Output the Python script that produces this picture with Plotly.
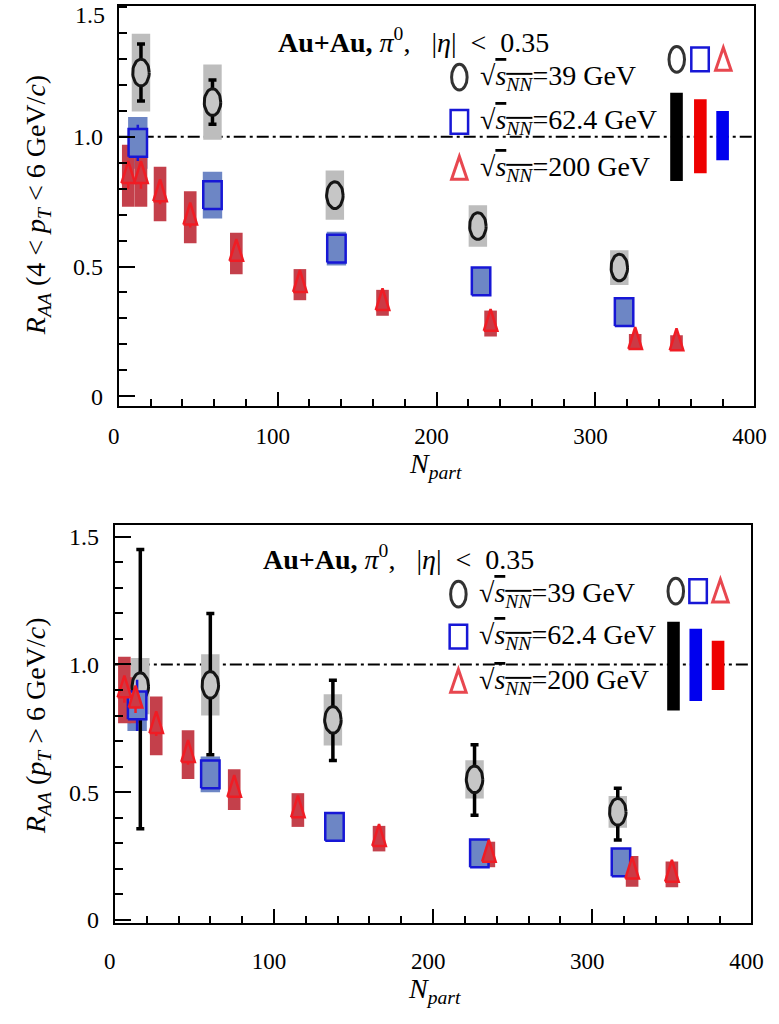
import numpy as np
import plotly.graph_objects as go

W, H = 779, 1024

# ---------------- data : top panel (4 < pT < 6 GeV/c) ----------------
top_x_39 = [14, 59, 136, 226, 315]
top_y_39 = [1.248, 1.134, 0.775, 0.656, 0.496]
top_stat_39 = [0.11, 0.085, 0.03, 0.02, 0.02]
top_sys_39 = [0.15, 0.145, 0.095, 0.08, 0.067]

top_x_62 = [12, 59, 137, 228, 318]
top_y_62 = [0.977, 0.775, 0.569, 0.443, 0.324]
top_stat_62 = [0.07, 0.03, 0.02, 0.02, 0.02]
top_sys_62 = [0.10, 0.09, 0.065, 0.055, 0.055]

top_x_200 = [6, 14, 26, 45, 74, 114, 166, 234, 325, 351]
top_y_200 = [0.85, 0.85, 0.78, 0.69, 0.55, 0.43, 0.36, 0.28, 0.21, 0.205]
top_stat_200 = [0.05, 0.05, 0.04, 0.04, 0.03, 0.03, 0.02, 0.02, 0.02, 0.02]
top_sys_200 = [0.12, 0.12, 0.105, 0.10, 0.08, 0.06, 0.05, 0.05, 0.03, 0.03]

top_glob_x = [351, 366, 380]
top_glob_lo = [0.83, 0.86, 0.91]
top_glob_hi = [1.17, 1.145, 1.10]
top_glob_col = ["#000000", "#ee0000", "#0000ee"]

# ---------------- data : bottom panel (pT > 6 GeV/c) ----------------
bot_x_39 = [16, 60, 137, 226, 316]
bot_y_39 = [0.915, 0.92, 0.783, 0.55, 0.423]
bot_stat_up_39 = [0.535, 0.28, 0.155, 0.136, 0.092]
bot_stat_dn_39 = [0.558, 0.273, 0.159, 0.14, 0.11]
bot_sys_39 = [0.11, 0.12, 0.10, 0.075, 0.062]

bot_x_62 = [14, 60, 138, 229, 318]
bot_y_62 = [0.84, 0.57, 0.364, 0.26, 0.225]
bot_stat_62 = [0.10, 0.03, 0.02, 0.02, 0.02]
bot_sys_62 = [0.10, 0.07, 0.055, 0.055, 0.05]

bot_x_200 = [6, 13, 26, 46, 75, 115, 166, 235, 325, 350]
bot_y_200 = [0.90, 0.86, 0.76, 0.647, 0.51, 0.43, 0.318, 0.256, 0.19, 0.178]
bot_stat_200 = [0.05, 0.05, 0.04, 0.04, 0.03, 0.03, 0.02, 0.02, 0.02, 0.02]
bot_sys_200 = [0.13, 0.09, 0.115, 0.095, 0.08, 0.066, 0.05, 0.05, 0.06, 0.05]

bot_glob_x = [351, 365, 379]
bot_glob_lo = [0.82, 0.857, 0.90]
bot_glob_hi = [1.167, 1.14, 1.093]
bot_glob_col = ["#000000", "#0000ee", "#ee0000"]

x_ticks = [0, 100, 200, 300, 400]
x_ticktext = ["0", "100", "200", "300", "400"]
y_ticks = [0, 0.5, 1.0, 1.5]
y_ticktext = ["0", "0.5", "1.0", "1.5"]

# ---------------- layout geometry (pixels) ----------------
TOP = dict(l=111, r=766, t=6, b=410, yr=[-0.038, 1.505], xstand=8)
BOT = dict(l=107, r=763, t=530, b=932, yr=[-0.012, 1.547], xstand=17)

FONT = "Liberation Serif"
GRAY_BOX = "#bdbdbd"
CIRC_FILL = "#c6c6c6"
BLUE_BOX = "#6d86c5"
BLUE_LINE = "#1717d6"
RED_BOX = "#c4404b"
RED_LINE = "#f01c24"
NB = "\u00a0"


def units(panel):
    ux = 400.0 / (panel["r"] - panel["l"])
    uy = (panel["yr"][1] - panel["yr"][0]) / (panel["b"] - panel["t"])
    return ux, uy


def ellipses(xs, ys, panel, wpx, hpx):
    ux, uy = units(panel)
    a, b = wpx / 2 * ux, hpx / 2 * uy
    t = np.linspace(0, 2 * np.pi, 41)
    X, Y = [], []
    for x, y in zip(xs, ys):
        X += list(x + a * np.cos(t)) + [None]
        Y += list(y + b * np.sin(t)) + [None]
    return X, Y


def rects(xs, ys, panel, wpx, hpx):
    ux, uy = units(panel)
    a, b = wpx / 2 * ux, hpx / 2 * uy
    X, Y = [], []
    for x, y in zip(xs, ys):
        X += [x - a, x + a, x + a, x - a, x - a, None]
        Y += [y - b, y - b, y + b, y + b, y - b, None]
    return X, Y


def triangles(xs, ys, panel, wpx, hpx):
    ux, uy = units(panel)
    a, h = wpx / 2 * ux, hpx * uy
    X, Y = [], []
    for x, y in zip(xs, ys):
        X += [x - a, x + a, x, x - a, None]
        Y += [y - h / 3, y - h / 3, y + 2 * h / 3, y - h / 3, None]
    return X, Y


fig = go.Figure()


def add_panel(ax, panel, x39, y39, up39, dn39, s39, x62, y62, st62, s62,
              x200, y200, st200, s200, gx, glo, ghi, gcol):
    xa, ya = "x" + ax, "y" + ax
    ux, uy = units(panel)
    common = dict(xaxis=xa, yaxis=ya, showlegend=False, hoverinfo="skip")
    # systematic boxes
    for xs, ys, ss, w, c in [(x39, y39, s39, 19, GRAY_BOX),
                             (x62, y62, s62, 20, BLUE_BOX),
                             (x200, y200, s200, 13, RED_BOX)]:
        fig.add_trace(go.Bar(x=xs, y=[2 * s for s in ss],
                             base=[y - s for y, s in zip(ys, ss)],
                             width=w * ux, marker=dict(color=c, line=dict(width=0)),
                             **common))
    # global normalisation uncertainties
    fig.add_trace(go.Bar(x=gx, y=[h - l for h, l in zip(ghi, glo)], base=glo,
                         width=13 * ux, marker=dict(color=gcol, line=dict(width=0)),
                         **common))
    # 39 GeV stat errors + ellipses
    fig.add_trace(go.Scatter(x=x39, y=y39, mode="markers",
                             marker=dict(size=1, color="rgba(0,0,0,0)"),
                             error_y=dict(type="data", symmetric=False, array=up39,
                                          arrayminus=dn39, color="#000000",
                                          thickness=3.5, width=4), **common))
    X, Y = ellipses(x39, y39, panel, 17, 27)
    fig.add_trace(go.Scatter(x=X, y=Y, mode="lines", fill="toself",
                             fillcolor=CIRC_FILL, line=dict(color="#151515", width=3),
                             **common))
    # 62.4 GeV
    fig.add_trace(go.Scatter(x=x62, y=y62, mode="markers",
                             marker=dict(size=1, color="rgba(0,0,0,0)"),
                             error_y=dict(type="data", array=st62, color=BLUE_LINE,
                                          thickness=2.5, width=0), **common))
    X, Y = rects(x62, y62, panel, 19, 28)
    fig.add_trace(go.Scatter(x=X, y=Y, mode="lines", fill="toself", fillcolor=BLUE_BOX,
                             line=dict(color=BLUE_LINE, width=2.5), **common))
    # 200 GeV
    fig.add_trace(go.Scatter(x=x200, y=y200, mode="markers",
                             marker=dict(size=1, color="rgba(0,0,0,0)"),
                             error_y=dict(type="data", array=st200, color=RED_LINE,
                                          thickness=2.5, width=0), **common))
    X, Y = triangles(x200, y200, panel, 14, 22)
    fig.add_trace(go.Scatter(x=X, y=Y, mode="lines", fill="toself",
                             fillcolor="#cc3a45", line=dict(color=RED_LINE, width=2.5),
                             **common))


add_panel("", TOP, top_x_39, top_y_39, top_stat_39, top_stat_39, top_sys_39,
          top_x_62, top_y_62, top_stat_62, top_sys_62,
          top_x_200, top_y_200, top_stat_200, top_sys_200,
          top_glob_x, top_glob_lo, top_glob_hi, top_glob_col)
add_panel("2", BOT, bot_x_39, bot_y_39, bot_stat_up_39, bot_stat_dn_39, bot_sys_39,
          bot_x_62, bot_y_62, bot_stat_62, bot_sys_62,
          bot_x_200, bot_y_200, bot_stat_200, bot_sys_200,
          bot_glob_x, bot_glob_lo, bot_glob_hi, bot_glob_col)


def px(x):
    return x / W


def py(y):
    return 1 - y / H


def xaxis(panel, anchor):
    return dict(domain=[px(panel["l"]), px(panel["r"])], range=[0, 400],
                anchor=anchor, showline=True, linecolor="black", linewidth=2,
                mirror=True, showgrid=False, zeroline=False,
                ticks="inside", ticklen=14, tickwidth=2, tickcolor="black",
                tickvals=x_ticks, ticktext=x_ticktext,
                minor=dict(ticks="inside", ticklen=7, tickwidth=1.5,
                           tickcolor="black", tickvals=list(range(0, 401, 20))),
                tickfont=dict(family=FONT, size=23, color="black"),
                ticklabelstandoff=panel["xstand"], ticklabelshift=-5)


def yaxis(panel, anchor, ticktext):
    return dict(domain=[py(panel["b"]), py(panel["t"])], range=panel["yr"],
                anchor=anchor, showline=True, linecolor="black", linewidth=2,
                mirror=True, showgrid=False, zeroline=False,
                ticks="inside", ticklen=16, tickwidth=2, tickcolor="black",
                tickvals=y_ticks, ticktext=ticktext,
                minor=dict(ticks="inside", ticklen=8, tickwidth=1.5,
                           tickcolor="black",
                           tickvals=[round(v, 2) for v in np.arange(0, 1.55, 0.1)]),
                tickfont=dict(family=FONT, size=24, color="black"),
                ticklabelstandoff=9)


shapes = []
annotations = []

# top-most label of the upper panel sits just below the frame edge (as in the original)
annotations.append(dict(x=px(TOP["l"] - 12), y=py(15), xref="paper", yref="paper",
                        showarrow=False, xanchor="right", yanchor="middle",
                        text=y_ticktext[-1],
                        font=dict(family=FONT, size=24, color="black")))

# reference line RAA = 1
for xr, yr in [("x", "y"), ("x2", "y2")]:
    shapes.append(dict(type="line", xref=xr, yref=yr, x0=0, x1=400, y0=1, y1=1,
                       layer="below",
                       line=dict(color="black", width=2, dash="12px,4px,3px,4px")))

SQRT = ("\u221a<span style='text-decoration:overline'><i>s</i><sub><i>NN</i></sub></span>"
        "=%s" + NB + "GeV")
energies = ["39", "62.4", "200"]
TITLE = ("<b>Au+Au,</b>" + NB + "<i>\u03c0</i><sup>0</sup>," + NB * 3 + "|<i>\u03b7</i>|"
         + NB * 2 + "<" + NB * 2 + "0.35")


def legend(tx, ty, lx, rows_y, rx, ry):
    annotations.append(dict(x=px(tx), y=py(ty), xref="paper", yref="paper",
                            showarrow=False, xanchor="center", yanchor="middle",
                            text=TITLE, font=dict(family=FONT, size=28, color="black")))
    for e, yy in zip(energies, rows_y):
        annotations.append(dict(x=px(lx + 19), y=py(yy), xref="paper", yref="paper",
                                showarrow=False, xanchor="left", yanchor="middle",
                                text=SQRT % e,
                                font=dict(family=FONT, size=28, color="black")))
    glyphs = [("c", lx, rows_y[0]), ("s", lx, rows_y[1]), ("t", lx, rows_y[2]),
              ("c", rx[0], ry), ("s", rx[1], ry), ("t", rx[2], ry)]
    for kind, gx, gy in glyphs:
        if kind == "c":
            shapes.append(dict(type="circle", xref="paper", yref="paper",
                               x0=px(gx - 8), x1=px(gx + 8), y0=py(gy + 13), y1=py(gy - 13),
                               fillcolor="white", line=dict(color="#333333", width=3)))
        elif kind == "s":
            shapes.append(dict(type="rect", xref="paper", yref="paper",
                               x0=px(gx - 9), x1=px(gx + 9), y0=py(gy + 12), y1=py(gy - 12),
                               fillcolor="white", line=dict(color=BLUE_LINE, width=2.5)))
        else:
            path = "M %f %f L %f %f L %f %f Z" % (px(gx - 8), py(gy + 11), px(gx + 8),
                                                  py(gy + 11), px(gx), py(gy - 12))
            shapes.append(dict(type="path", xref="paper", yref="paper", path=path,
                               fillcolor="white", line=dict(color="#e8474f", width=3)))


legend(415, 41, 462, [78, 123, 170], [686, 710, 734], 60)
legend(399, 563, 461, [600, 643, 688], [685, 708, 731], 597)

# axis titles
LT = NB + "<" + NB
for text, x, y, ang in [
    ("<i>R</i><sub><i>AA</i></sub>" + NB + "(4" + LT + "<i>p</i><sub><i>T</i></sub>" + LT
     + "6" + NB + "GeV/<i>c</i>)", 28, 207, -90),
    ("<i>R</i><sub><i>AA</i></sub>" + NB + "(<i>p</i><sub><i>T</i></sub>" + NB + ">" + NB
     + "6" + NB + "GeV/<i>c</i>)", 28, 733, -90),
    ("<i>N</i><sub><i>part</i></sub>", 437, 470, 0),
    ("<i>N</i><sub><i>part</i></sub>", 436, 1000, 0),
]:
    annotations.append(dict(x=px(x), y=py(y), xref="paper", yref="paper",
                            showarrow=False, xanchor="center", yanchor="middle",
                            textangle=ang, text=text,
                            font=dict(family=FONT, size=28, color="black")))

fig.update_layout(
    width=W, height=H, margin=dict(l=0, r=0, t=0, b=0),
    paper_bgcolor="white", plot_bgcolor="white",
    barmode="overlay", showlegend=False,
    xaxis=xaxis(TOP, "y"), yaxis=yaxis(TOP, "x", y_ticktext[:-1] + [""]),
    xaxis2=xaxis(BOT, "y2"), yaxis2=yaxis(BOT, "x2", y_ticktext),
    shapes=shapes, annotations=annotations,
)

fig.write_html("out.html")
